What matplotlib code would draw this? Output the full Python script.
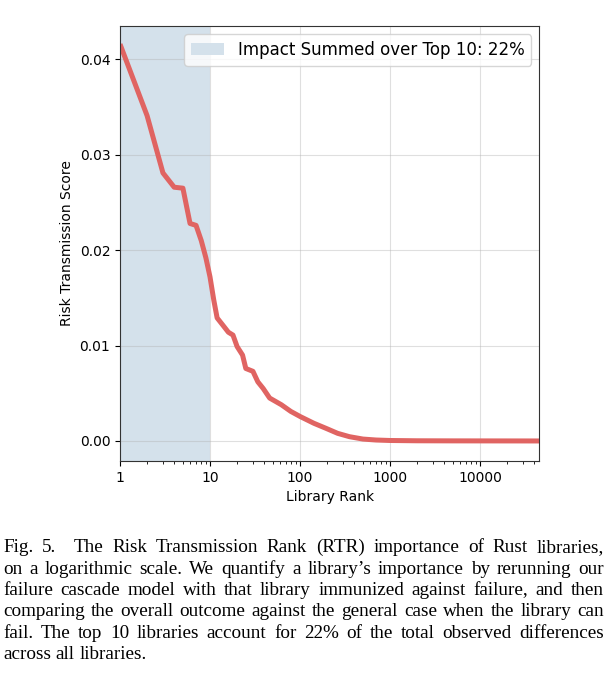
import numpy as np
import matplotlib
matplotlib.use('Agg')
from matplotlib import pyplot as plt

# values
ranks = [1, 2, 3, 4, 5, 6, 7, 8, 9, 10, 11, 12, 14, 16, 18, 20, 23, 25, 30, 34,
         39, 46, 62, 79, 101, 143, 194, 262, 354, 500, 700, 1000, 2000, 5000, 45600]
scores = [0.0416, 0.0341, 0.0281, 0.0266, 0.0265, 0.0228, 0.0226, 0.0210, 0.0192,
          0.0172, 0.0148, 0.0129, 0.0121, 0.0114, 0.0111, 0.0099, 0.0090, 0.0076,
          0.0073, 0.0062, 0.0055, 0.0045, 0.0038, 0.0031, 0.00255, 0.00185,
          0.00133, 0.0008, 0.00045, 0.0002, 0.0001, 0.00005, 0.00002, 0.00001, 0.0]
top_n = 10
top_share = 22
xticks = [1, 10, 100, 1000, 10000]
yticks = [0.00, 0.01, 0.02, 0.03, 0.04]

caption = [
    "Fig. 5.  The Risk Transmission Rank (RTR) importance of Rust libraries,",
    "on a logarithmic scale. We quantify a library’s importance by rerunning our",
    "failure cascade model with that library immunized against failure, and then",
    "comparing the overall outcome against the general case when the library can",
    "fail. The top 10 libraries account for 22% of the total observed differences",
    "across all libraries.",
]

W, H = 613, 680
fig = plt.figure(figsize=(W / 100, H / 100), dpi=100)
ax = fig.add_axes([120 / W, 1 - 461 / H, 419.3 / W, 435 / H])

ax.axvspan(1, top_n, color='#d4e1eb', lw=0,
           label='Impact Summed over Top %d: %d%%' % (top_n, top_share))
ax.plot(ranks, scores, color='#e06462', lw=3.6, solid_capstyle='butt')

ax.set_xscale('log')
ax.set_xlim(1, 45600)
ax.set_ylim(-0.0021, 0.0435)
ax.set_xticks(xticks)
ax.set_xticklabels([str(t) for t in xticks])
ax.set_yticks(yticks)
ax.set_yticklabels(['%.2f' % t for t in yticks])
ax.tick_params(labelsize=10)
ax.grid(True, color='#b0b0b0', alpha=0.4, lw=0.8)
for s in ax.spines.values():
    s.set_color('#333333')
ax.set_xlabel('Library Rank', fontsize=10)
ax.set_ylabel('Risk Transmission Score', fontsize=10)
ax.legend(loc='upper right', fontsize=12)

# justified caption below the plot
fs = 13.8
x0, x1 = 3, 604
baselines = [552, 574, 595, 616, 638, 659]
fig.canvas.draw()
r = fig.canvas.get_renderer()
for i, line in enumerate(caption):
    words = line.replace('.  ', '.\x00').split(' ')
    weights = []
    toks = []
    for w in words:
        parts = w.split('\x00')
        for j, p in enumerate(parts):
            toks.append(p)
            weights.append(2.0 if j < len(parts) - 1 else 1.0)
    weights = weights[:-1]
    texts = [fig.text(0, 1 - baselines[i] / H, t, fontsize=fs, va='baseline',
                      family='Liberation Serif') for t in toks]
    widths = [t.get_window_extent(r).width for t in texts]
    if i == len(caption) - 1:
        # last line is not stretched, plain spaces
        t2 = fig.text(0, 0, 'a a', fontsize=fs, family='Liberation Serif')
        t1 = fig.text(0, 0, 'aa', fontsize=fs, family='Liberation Serif')
        sw = t2.get_window_extent(r).width - t1.get_window_extent(r).width
        t2.remove()
        t1.remove()
        gaps = [sw * k for k in weights]
    else:
        unit = (x1 - x0 - sum(widths)) / sum(weights)
        gaps = [unit * k for k in weights]
    x = x0
    for k, (t, w) in enumerate(zip(texts, widths)):
        t.set_x(x / W)
        x += w + (gaps[k] if k < len(gaps) else 0)

fig.savefig('out.png', dpi=100)
